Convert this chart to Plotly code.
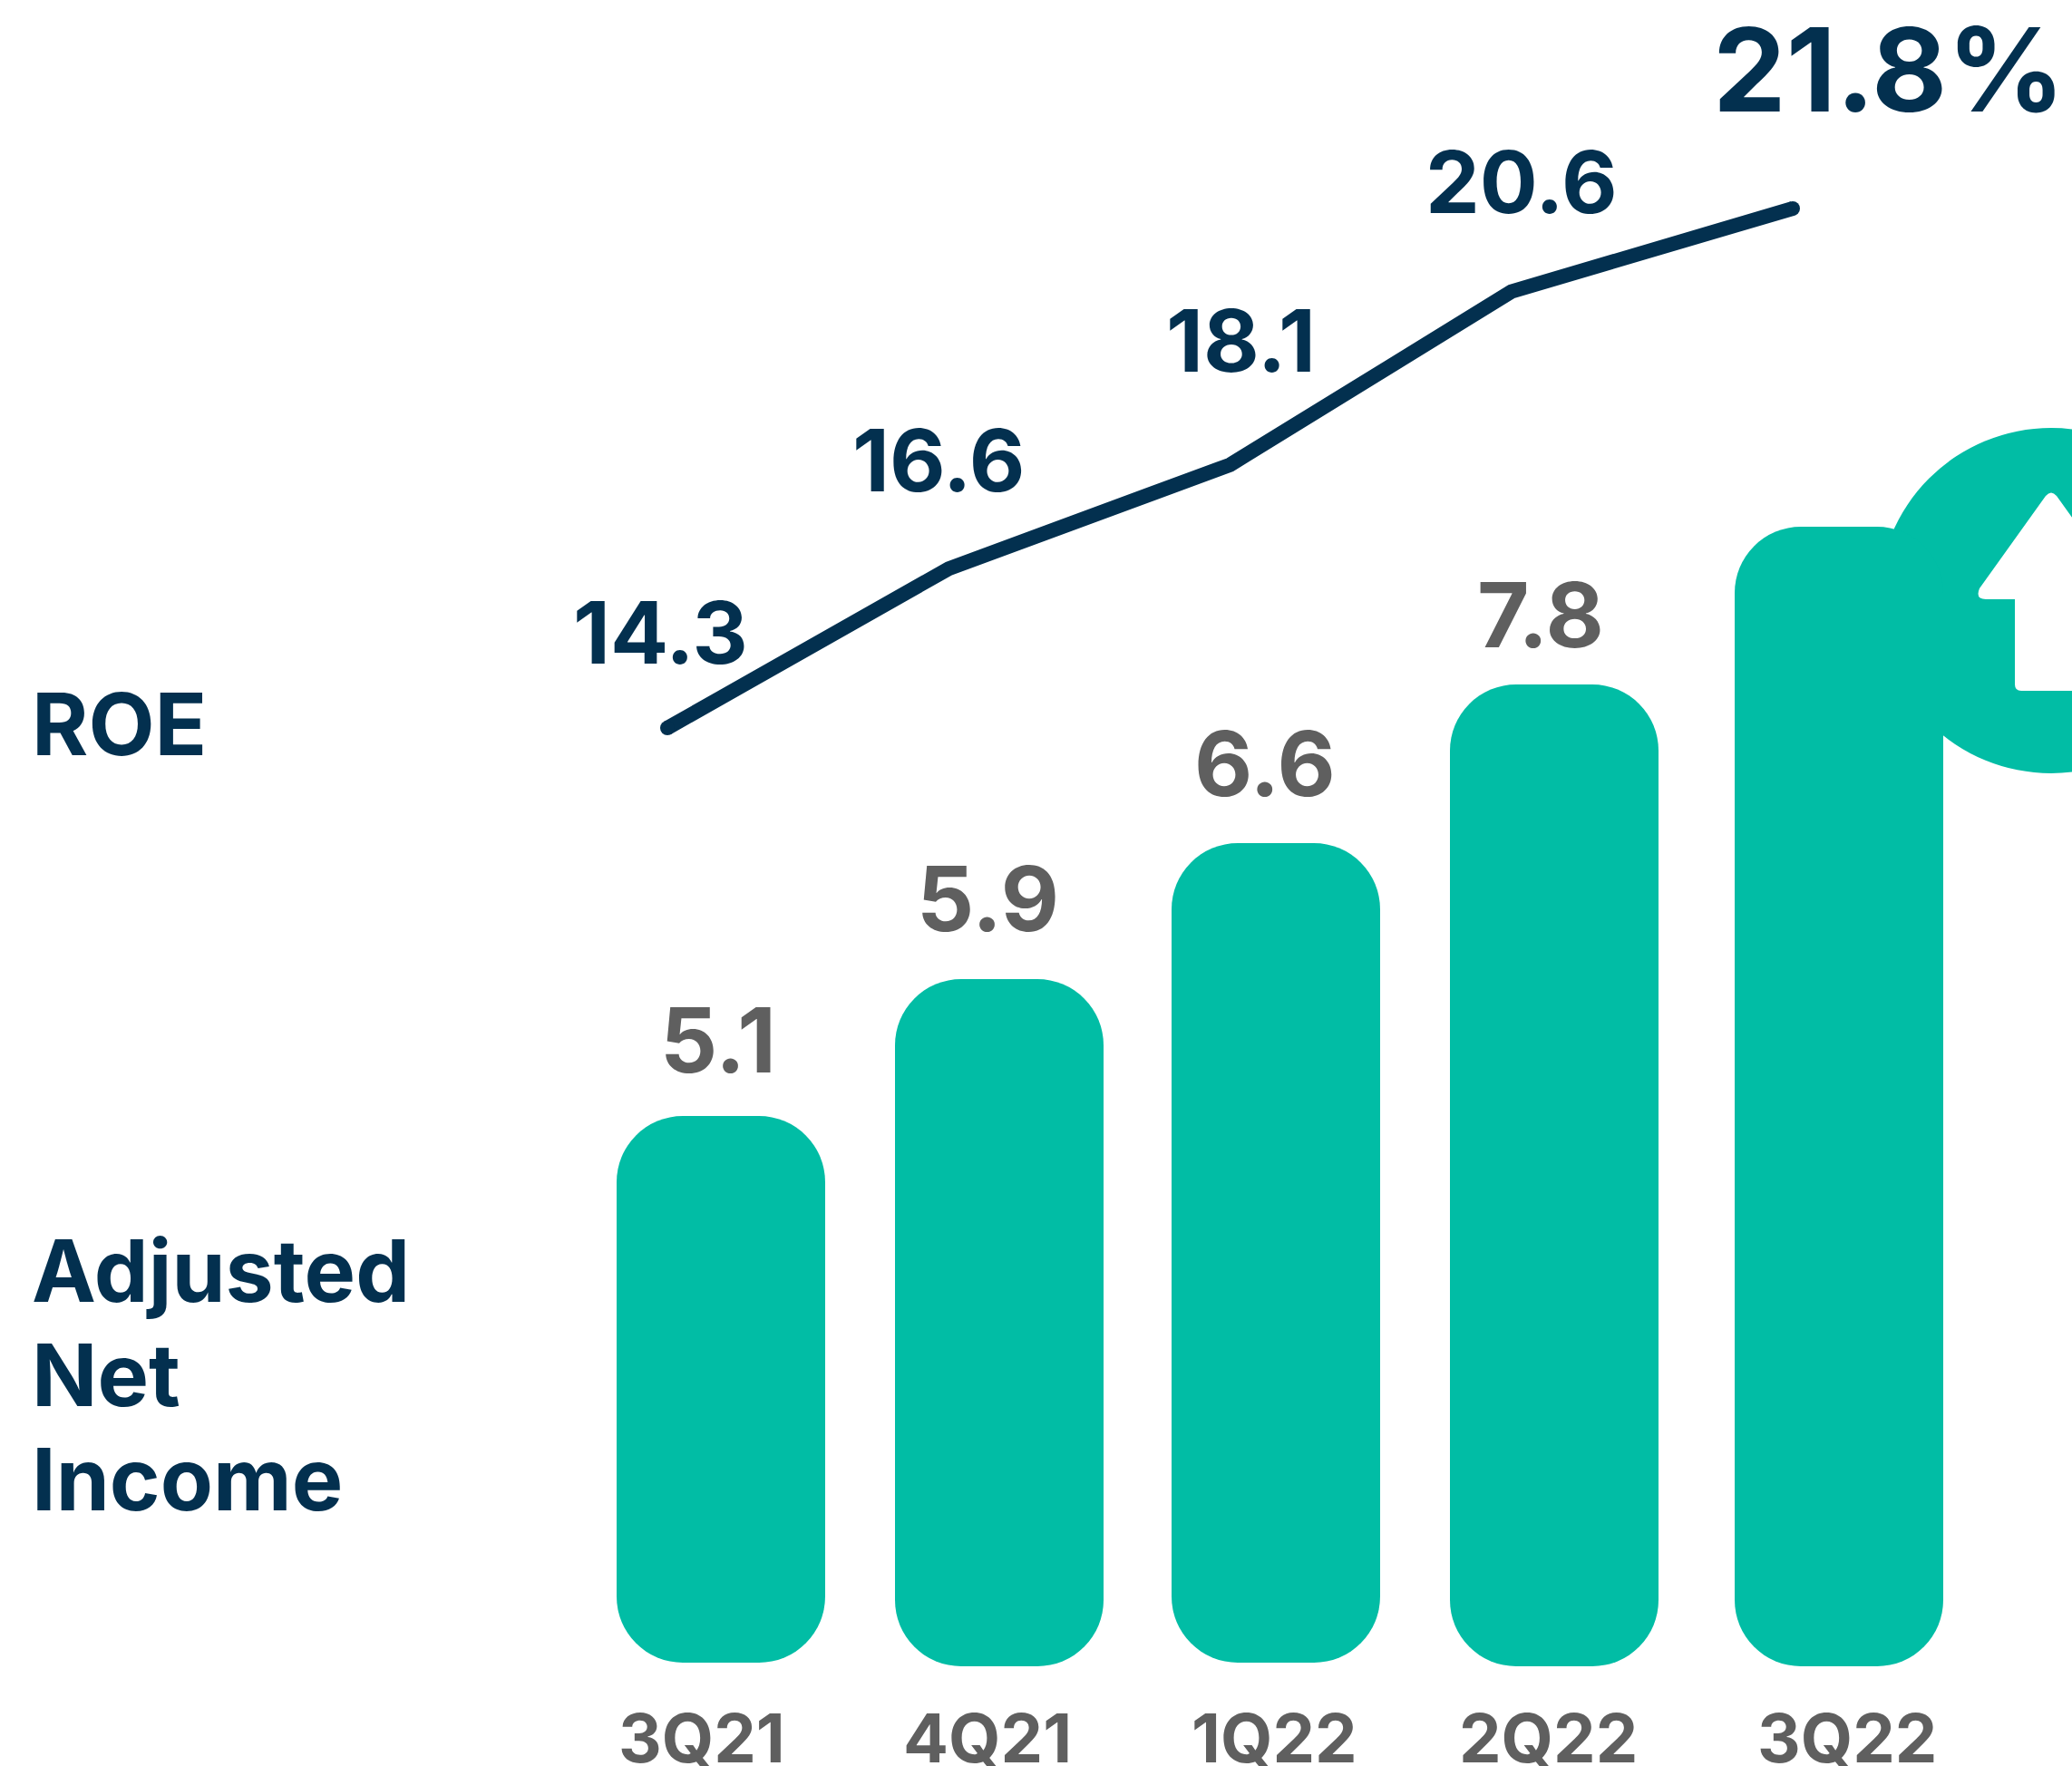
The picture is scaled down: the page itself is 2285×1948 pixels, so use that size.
import plotly.graph_objects as go

W, H = 2285, 1948
FONT = "Inter"
TEAL = "#01BDA5"
NAVY = "#03304F"
GREY = "#5F5F5F"

quarters = ["3Q21", "4Q21", "1Q22", "2Q22", "3Q22"]
roe = [14.3, 16.6, 18.1, 20.6, 21.8]
net_income_labels = ["5.1", "5.9", "6.6", "7.8"]
# drawn bar heights as measured, the source art is not to scale with its labels
bar_heights = [603, 758, 904, 1083, 1257]
bar_bases = [4, 0, 4, 0, 0]
row_labels = ["ROE", "Adjusted", "Net", "Income"]

# label placement, separate from the data
bar_nudge = [0, -1, -4, -5, 1]
roe_label_dx = [-8, -11, 12, 11, 106]
roe_label_dy = [105, 120, 137, 121, 153]
bar_label_dx = [-3, -14, -16, -20]
bar_label_dy = [84, 89, 88, 77]
tick_label_dx = [-21, -14, -6, -12, 10]
row_label_y = [798, 1401, 1516, 1631]


def px(x):
    return x / W


def py(y):
    return 1 - y / H


tops = [b + h for b, h in zip(bar_bases, bar_heights)]

fig = go.Figure()

bar_width = 230 / 308
bar_offset = [-bar_width / 2 + n / 308 for n in bar_nudge]
# with a base set, plotly rounds both ends of the bar
fig.add_trace(go.Bar(x=quarters, y=bar_heights, base=bar_bases, width=bar_width, offset=bar_offset,
                     marker=dict(color=TEAL, line=dict(width=0)), showlegend=False, hoverinfo="skip"))

fig.add_trace(go.Scatter(x=quarters, y=roe, xaxis="x2", yaxis="y2", mode="lines+markers",
                         line=dict(color=NAVY, width=16),
                         marker=dict(color=NAVY, size=[16, 0, 0, 0, 16], opacity=1, line=dict(width=0)),
                         showlegend=False, hoverinfo="skip"))

# bar values
for i, label in enumerate(net_income_labels):
    fig.add_annotation(x=quarters[i], y=tops[i], xref="x", yref="y", text=label, showarrow=False,
                       xanchor="center", yanchor="middle",
                       xshift=bar_label_dx[i], yshift=bar_label_dy[i],
                       font=dict(family=FONT, size=99, color=GREY, weight=700))

# roe values
for i, value in enumerate(roe):
    last = i == len(roe) - 1
    fig.add_annotation(x=quarters[i], y=value, xref="x2", yref="y2",
                       text=f"{value}%" if last else str(value), showarrow=False,
                       xanchor="center", yanchor="middle",
                       xshift=roe_label_dx[i], yshift=roe_label_dy[i],
                       font=dict(family=FONT, size=128 if last else 95, color=NAVY, weight=700))

# quarter labels
for i, q in enumerate(quarters):
    fig.add_annotation(x=q, y=py(1917), xref="x", yref="paper", text=q, showarrow=False,
                       xanchor="center", yanchor="middle", xshift=tick_label_dx[i],
                       font=dict(family=FONT, size=74, color=GREY, weight=700))

# row captions
for label, y in zip(row_labels, row_label_y):
    fig.add_annotation(x=px(33), y=py(y), xref="paper", yref="paper", text=label, showarrow=False,
                       xanchor="left", yanchor="middle",
                       font=dict(family=FONT, size=95, color=NAVY, weight=700))

# up-arrow badge, cut by the right edge
fig.add_shape(type="circle", xref="paper", yref="paper", x0=px(2071.5), x1=px(2452.5),
              y0=py(853), y1=py(472), fillcolor=TEAL, line=dict(width=0), layer="below")
arrow = [("M", 2256, 547), ("L", 2183, 649), ("Q", 2178, 661, 2190, 661), ("L", 2222, 661),
         ("L", 2222, 755), ("Q", 2222, 762, 2229, 762), ("L", 2295, 762), ("Q", 2302, 762, 2302, 755),
         ("L", 2302, 661), ("L", 2334, 661), ("Q", 2346, 661, 2341, 649), ("L", 2268, 547),
         ("Q", 2262, 540, 2256, 547)]
path = ""
for seg in arrow:
    coords = seg[1:]
    pts = [f"{px(coords[k])},{py(coords[k + 1])}" for k in range(0, len(coords), 2)]
    path += seg[0] + " ".join(pts) + " "
fig.add_shape(type="path", path=path + "Z", xref="paper", yref="paper", fillcolor="white",
              line=dict(width=0), layer="above")

fig.update_layout(
    width=W, height=H, margin=dict(l=0, r=0, t=0, b=0), autosize=False,
    paper_bgcolor="white", plot_bgcolor="rgba(0,0,0,0)",
    barmode="overlay", barcornerradius=73, hovermode=False,
    xaxis=dict(visible=False, type="category", categoryarray=quarters,
               range=[-795 / 308, (W - 795) / 308]),
    xaxis2=dict(visible=False, type="category", categoryarray=quarters, overlaying="x",
                range=[-736 / 310.25, (W - 736) / 310.25]),
    yaxis=dict(visible=False, range=[-110, 1838]),
    yaxis2=dict(visible=False, overlaying="y", range=[-0.687, 24.81]),
)

fig.write_html("out.html", config=dict(displayModeBar=False),
               post_script="document.body.style.margin='0';")
